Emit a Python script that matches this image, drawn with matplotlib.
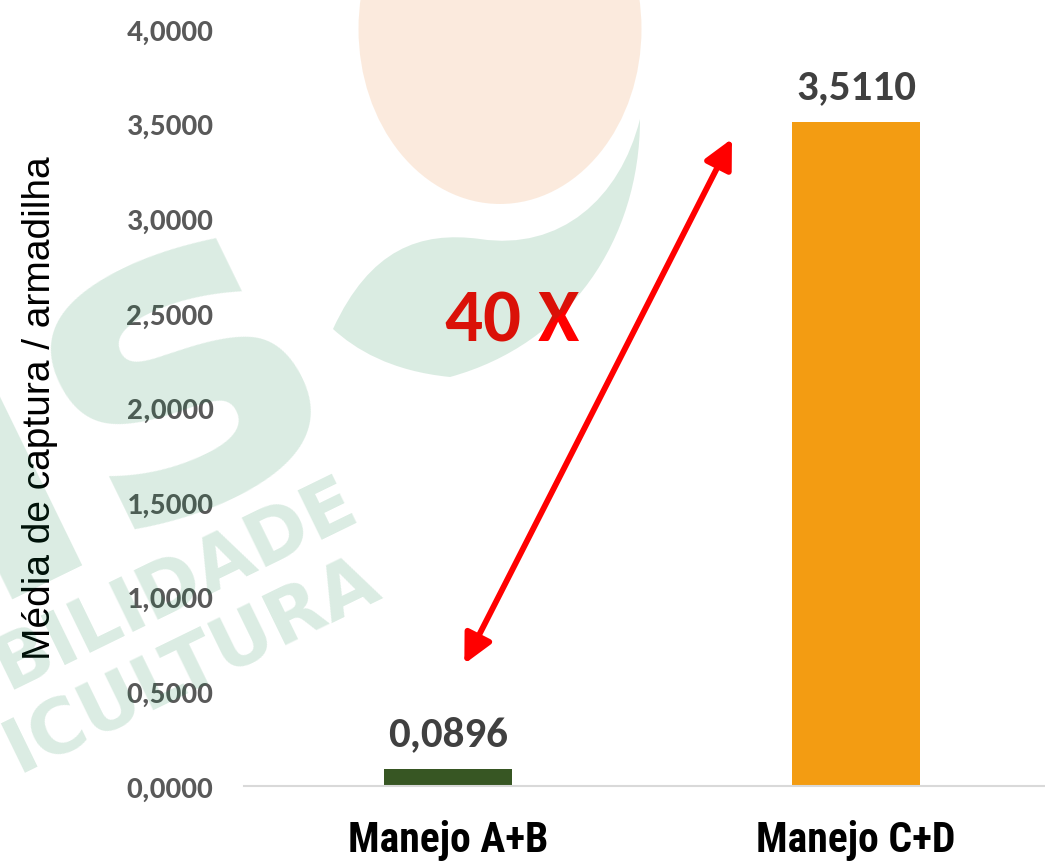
import matplotlib
matplotlib.use("Agg")
from matplotlib import pyplot as plt
from matplotlib.patches import Ellipse, PathPatch
from matplotlib.path import Path

categories = ["Manejo A+B", "Manejo C+D"]
values = [0.0896, 3.5110]
bar_colors = ["#375623", "#F39C12"]
yticks = [0.0, 0.5, 1.0, 1.5, 2.0, 2.5, 3.0, 3.5, 4.0]
ylabel = "Média de captura / armadilha"
ratio_text = "40 X"
arrow_start = (0.04, 0.645)
arrow_end = (0.696, 3.42)
watermark_words = ["us", "BILIDADE", "ICULTURA"]

W, H = 1045, 862
narrow = ["Roboto Condensed", "Archivo Narrow", "PT Sans Narrow", "Liberation Sans"]


def px(x, y):
    # image pixel coords (origin top-left) -> figure fraction
    return x / W, (H - y) / H


def br(v):
    return f"{v:.4f}".replace(".", ",")


fig = plt.figure(figsize=(W / 100, H / 100), dpi=100)
ax = fig.add_axes([244 / W, 75 / H, 816 / W, 757 / H])
ax.set_facecolor("none")

x = range(len(categories))
ax.bar(x, values, width=0.314, color=bar_colors, zorder=2)
ax.set_xlim(-0.5, 1.5)
ax.set_ylim(0, 4.0)

ax.set_yticks(yticks)
ax.set_yticklabels([br(v) for v in yticks], fontsize=22.5, fontweight="bold",
                   color="#595959", family="Carlito")
ax.set_xticks(list(x))
ax.set_xticklabels(categories, fontsize=30, fontweight="bold", color="black",
                   family=narrow)
ax.tick_params(axis="y", length=0, pad=22)
ax.tick_params(axis="x", length=0, pad=24)

for s in ["top", "right", "left"]:
    ax.spines[s].set_visible(False)
ax.spines["bottom"].set_color("#D9D9D9")
ax.spines["bottom"].set_linewidth(1.5)

for i, v in enumerate(values):
    ax.annotate(br(v), (i, v), xytext=(0, 12), textcoords="offset points",
                ha="center", va="bottom", fontsize=31, fontweight="bold",
                color="#404040", family="Carlito")

ax.annotate("", xy=arrow_end, xytext=arrow_start,
            arrowprops=dict(arrowstyle="<|-|>,head_length=1.1,head_width=0.55",
                            mutation_scale=16, color="#FF0000", lw=4.2,
                            shrinkA=0, shrinkB=0), zorder=3)
ax.text(0.157, 2.46, ratio_text, ha="center", va="center", fontsize=54,
        fontweight="bold", color="#FF0000", family="Carlito", zorder=3)

fig.text(*px(40, 408), ylabel, rotation=90, ha="center", va="center",
         fontsize=28, family="Liberation Sans", color="black")

# translucent logo watermark drawn over the chart
green = (0.0, 124 / 255, 60 / 255)
peach = (230 / 255, 120 / 255, 30 / 255)
wa = 0.145

ell = Ellipse(px(500, 30), 283 / W, 350 / H, transform=fig.transFigure,
              color=peach, alpha=0.15, lw=0, zorder=10)
fig.patches.append(ell)

leaf_pts = [(333, 330), (370, 250), (420, 232), (480, 240),
            (560, 252), (620, 200), (640, 120),
            (640, 240), (570, 345), (450, 378),
            (390, 372), (355, 350), (333, 330)]
codes = [Path.MOVETO] + [Path.CURVE4] * 12
leaf = PathPatch(Path([px(*p) for p in leaf_pts], codes),
                 transform=fig.transFigure, color=green, alpha=wa, lw=0,
                 zorder=10)
fig.patches.append(leaf)

fig.text(*px(35, 435), watermark_words[0], rotation=26, ha="center",
         va="center", fontsize=320, fontweight="bold", color=green, alpha=wa,
         family="DejaVu Sans", zorder=10)
fig.text(*px(175, 585), watermark_words[1], rotation=26, ha="center",
         va="center", fontsize=54, fontweight="bold", color=green, alpha=wa,
         family="DejaVu Sans", zorder=10)
fig.text(*px(192, 665), watermark_words[2], rotation=26, ha="center",
         va="center", fontsize=54, fontweight="bold", color=green, alpha=wa,
         family="DejaVu Sans", zorder=10)

fig.savefig("out.png", dpi=100)
